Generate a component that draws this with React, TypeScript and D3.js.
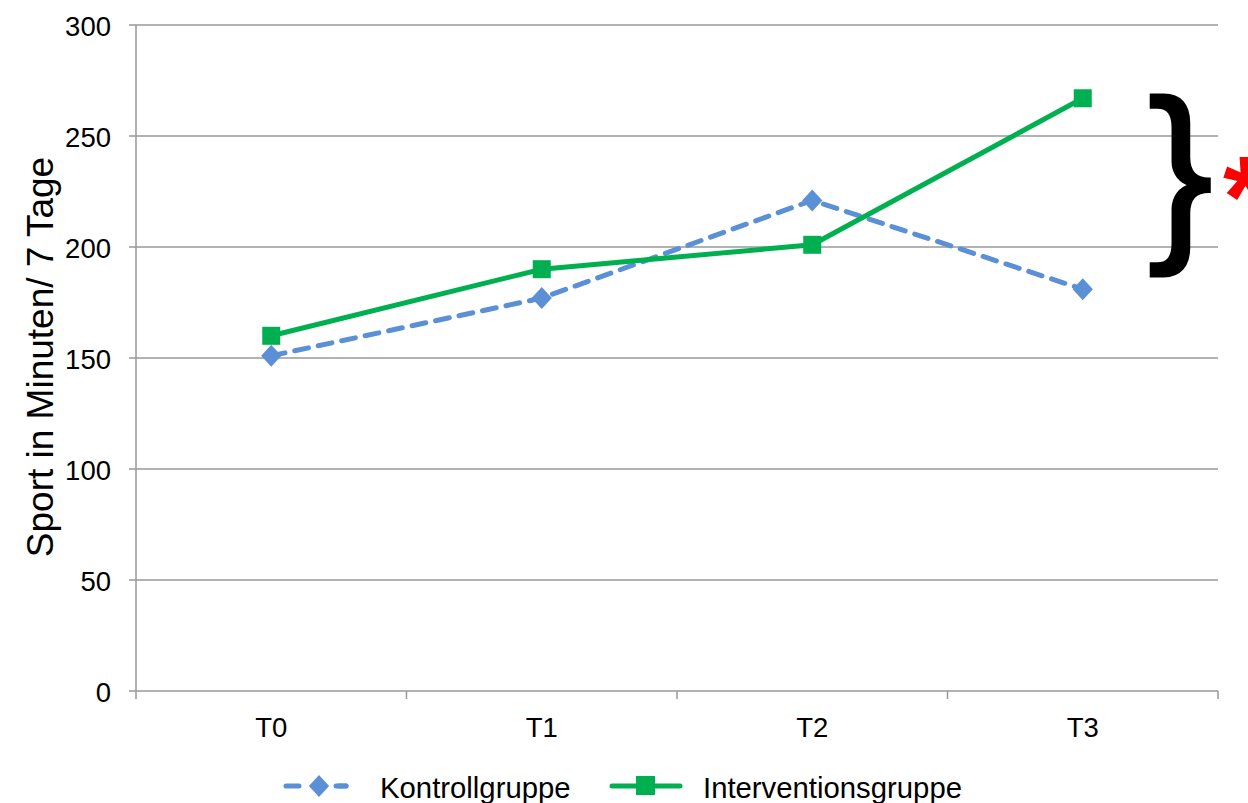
import React from "react";
import * as d3 from "d3";

const categories = ["T0", "T1", "T2", "T3"];
const kontrolle = [151, 177, 221, 181];
const intervention = [160, 190, 201, 267];
const yTicks = [0, 50, 100, 150, 200, 250, 300];
const seriesNames = ["Kontrollgruppe", "Interventionsgruppe"];

const W = 1248;
const H = 803;
const M = { left: 136, right: 1218, top: 25, bottom: 691 };
const FONT = "'Liberation Sans', Arial, sans-serif";
const BLUE = "#5B8FD6";
const GREEN = "#00B050";
const GRID = "#999999";

export default function App() {
  const x = d3.scaleBand<string>().domain(categories).range([M.left, M.right]);
  const y = d3.scaleLinear().domain([0, 300]).range([M.bottom, M.top]);
  const cx = (c: string) => (x(c) ?? 0) + x.bandwidth() / 2;

  const line = d3
    .line<number>()
    .x((_, i) => cx(categories[i]))
    .y((d) => y(d));

  const diamond = (px: number, py: number, r = 11) =>
    `M${px},${py - r}L${px + r * 0.92},${py}L${px},${py + r}L${px - r * 0.92},${py}Z`;

  const boundaries = [M.left, ...categories.map((c) => (x(c) ?? 0) + x.bandwidth())];
  const SQ = 18;

  return (
    <svg width={W} height={H} style={{ position: "absolute", left: 0, top: 0 }}>
      <rect width={W} height={H} fill="#fff" />
      {/* horizontal grid + y ticks */}
      {yTicks.map((t) => (
        <g key={t}>
          <line x1={M.left} x2={M.right} y1={y(t)} y2={y(t)} stroke={GRID} strokeWidth={1.5} />
          <line x1={M.left - 7} x2={M.left} y1={y(t)} y2={y(t)} stroke={GRID} strokeWidth={1.5} />
          <text x={M.left - 25} y={y(t) + 1} textAnchor="end" dominantBaseline="central" fontFamily={FONT} fontSize={27.5} fill="#000">
            {t}
          </text>
        </g>
      ))}
      {/* y axis line */}
      <line x1={M.left} x2={M.left} y1={M.top} y2={M.bottom} stroke={GRID} strokeWidth={1.5} />
      {/* x ticks at category boundaries */}
      {boundaries.map((b, i) => (
        <line key={i} x1={b} x2={b} y1={M.bottom} y2={M.bottom + 8} stroke={GRID} strokeWidth={1.5} />
      ))}
      {categories.map((c) => (
        <text key={c} x={cx(c)} y={727} textAnchor="middle" dominantBaseline="central" fontFamily={FONT} fontSize={27.5} fill="#000">
          {c}
        </text>
      ))}
      {/* y axis title */}
      <text
        transform={`translate(40,${357}) rotate(-90)`}
        textAnchor="middle"
        dominantBaseline="central"
        fontFamily={FONT}
        fontSize={37}
        fill="#000"
      >
        Sport in Minuten/ 7 Tage
      </text>

      {/* Kontrollgruppe */}
      <path d={line(kontrolle) ?? ""} fill="none" stroke={BLUE} strokeWidth={5} strokeDasharray="14 10" strokeLinecap="round" />
      {kontrolle.map((v, i) => (
        <path key={i} d={diamond(cx(categories[i]), y(v))} fill={BLUE} />
      ))}

      {/* Interventionsgruppe */}
      <path d={line(intervention) ?? ""} fill="none" stroke={GREEN} strokeWidth={5} />
      {intervention.map((v, i) => (
        <rect key={i} x={cx(categories[i]) - SQ / 2} y={y(v) - SQ / 2} width={SQ} height={SQ} fill={GREEN} />
      ))}

      {/* significance brace and asterisk */}
      <text x={1148} y={236} fontFamily={FONT} fontSize={194} fill="#000" stroke="#000" strokeWidth={3}>
        {"}"}
      </text>
      <text x={1223} y={236} fontFamily={FONT} fontWeight="bold" fontSize={115} fill="#ff0000">
        *
      </text>

      {/* legend */}
      <g>
        <line x1={286} x2={346} y1={786} y2={786} stroke={BLUE} strokeWidth={5} strokeDasharray="13 37" strokeLinecap="round" />
        <line x1={339} x2={346} y1={786} y2={786} stroke={BLUE} strokeWidth={5} strokeLinecap="round" />
        <path d={diamond(319, 786, 11)} fill={BLUE} />
        <text x={380} y={787} dominantBaseline="central" fontFamily={FONT} fontSize={29.3} fill="#000">
          {seriesNames[0]}
        </text>
        <line x1={612} x2={680} y1={786} y2={786} stroke={GREEN} strokeWidth={5} strokeLinecap="round" />
        <rect x={636} y={776} width={19} height={19} fill={GREEN} />
        <text x={703} y={787} dominantBaseline="central" fontFamily={FONT} fontSize={29.3} fill="#000">
          {seriesNames[1]}
        </text>
      </g>
    </svg>
  );
}
